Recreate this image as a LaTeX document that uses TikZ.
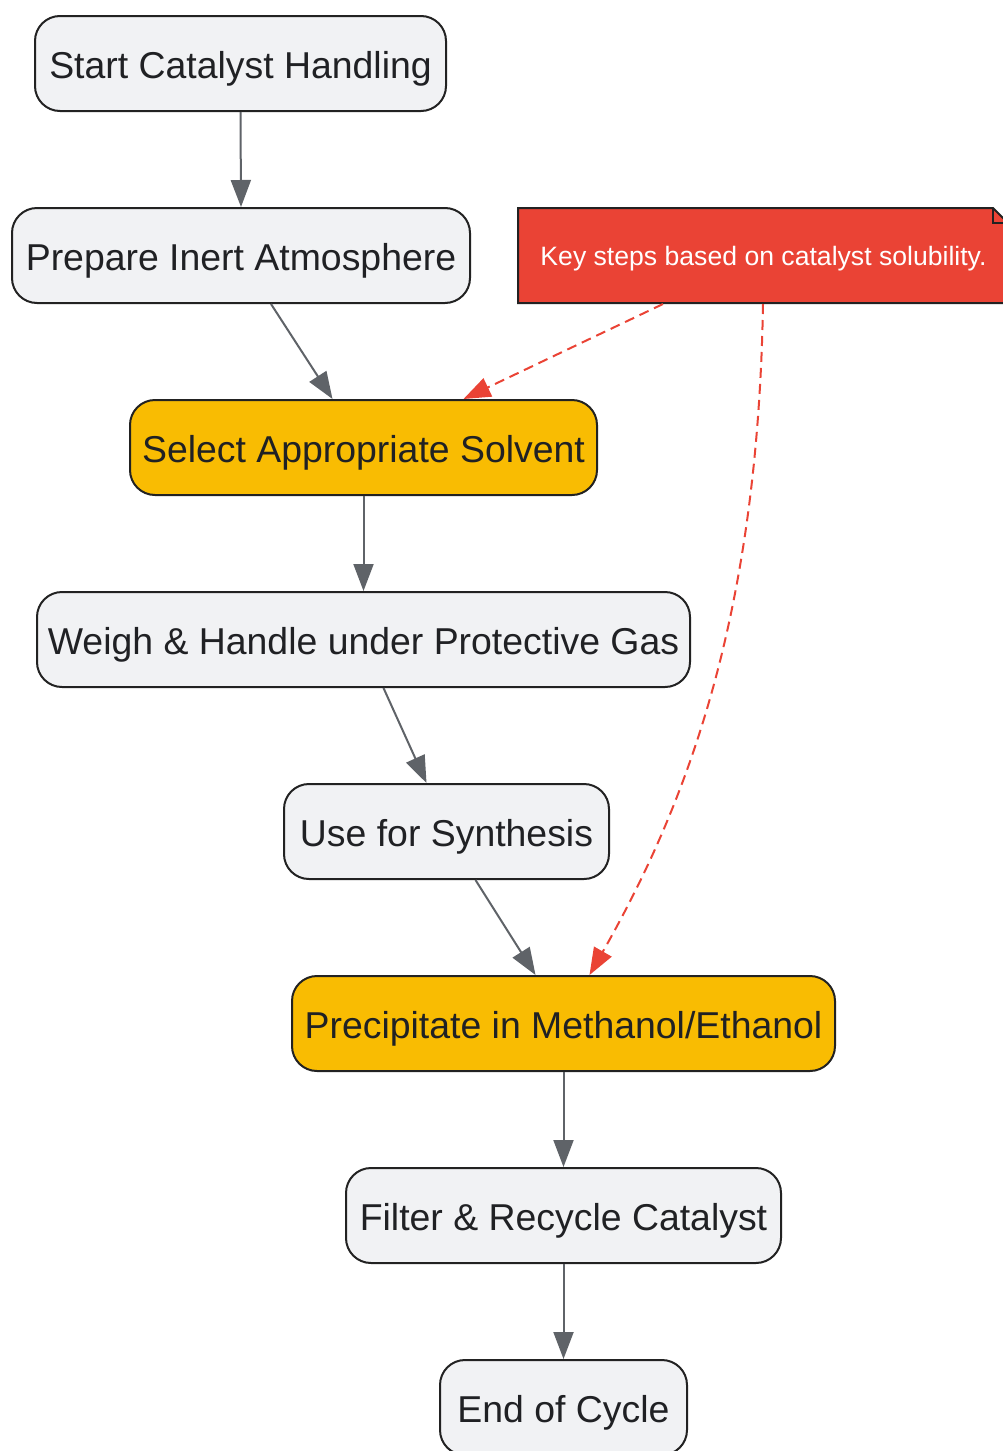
\documentclass[tikz,border=0pt]{standalone}
\usepackage{fontspec}
\setmainfont{Liberation Sans}
\usetikzlibrary{arrows.meta}
\definecolor{nodefill}{HTML}{F1F2F4}
\definecolor{nodeborder}{HTML}{222222}
\definecolor{hiyellow}{HTML}{F9BC02}
\definecolor{edgegray}{HTML}{5F6368}
\definecolor{notered}{HTML}{EA4335}
\definecolor{txt}{HTML}{202124}
\tikzset{
  procbox/.style={draw=nodeborder, line width=2pt, fill=nodefill, rounded corners=25pt,
    minimum height=95pt, inner xsep=0pt, inner ysep=0pt, text=txt,
    text height=29pt, text depth=0pt,
    font=\fontsize{37.4}{42}\selectfont},
  hibox/.style={procbox, fill=hiyellow},
  flow/.style={draw=edgegray, line width=2pt, -{Triangle[length=27pt,width=20pt]}},
  noteflow/.style={draw=notered, line width=2pt, dash pattern=on 10pt off 6pt,
    -{Triangle[length=27pt,width=20pt]}},
}
\begin{document}
\begin{tikzpicture}[x=1pt,y=-1pt]
\useasboundingbox (0,0) rectangle (1003,1451);
\begin{scope}
\clip (0,0) rectangle (1003,1451);
% note
\filldraw[fill=notered, draw=nodeborder, line width=2pt]
  (518,208) -- (993,208) -- (1010,225) -- (1010,303) -- (518,303) -- cycle;
\draw[draw=nodeborder, line width=2pt] (993,208) -- (993,223) -- (1010,223);
\node[text=white, font=\fontsize{26.6}{30}\selectfont, inner sep=0pt,
  text height=18pt, text depth=0pt] (note) at (763.5,256) {Key steps based on catalyst solubility.};
\coordinate (noteA) at (663,304);
\coordinate (noteB) at (763,304);

\node[procbox, minimum width=411pt] (n1) at (240.5,63.5) {Start Catalyst Handling};
\node[procbox, minimum width=458pt] (n2) at (241,255.5) {Prepare Inert Atmosphere};
\node[hibox, minimum width=467pt] (n3) at (363.5,447.5) {Select Appropriate Solvent};
\node[procbox, minimum width=653pt] (n4) at (363.5,639.5) {Weigh \& Handle under Protective Gas};
\node[procbox, minimum width=325pt] (n5) at (446.5,831.5) {Use for Synthesis};
\node[hibox, minimum width=543pt] (n6) at (563.5,1023.5) {Precipitate in Methanol/Ethanol};
\node[procbox, minimum width=435pt] (n7) at (563.5,1215.5) {Filter \& Recycle Catalyst};
\node[procbox, minimum width=247pt] (n8) at (563.5,1407.5) {End of Cycle};

\draw[flow] (n1.south) -- (n2.north);
\draw[flow] ([xshift=30pt]n2.south) -- ([xshift=-31pt]n3.north);
\draw[flow] (n3.south) -- (n4.north);
\draw[flow] ([xshift=20pt]n4.south) -- ([xshift=-20pt]n5.north);
\draw[flow] ([xshift=29pt]n5.south) -- ([xshift=-28pt]n6.north);
\draw[flow] (n6.south) -- (n7.north);
\draw[flow] (n7.south) -- (n8.north);

\draw[noteflow] (noteA) -- ([xshift=100pt]n3.north);
\draw[noteflow] (noteB) .. controls (758,600) and (695,790) .. ([xshift=26pt]n6.north);
\end{scope}
\end{tikzpicture}
\end{document}
